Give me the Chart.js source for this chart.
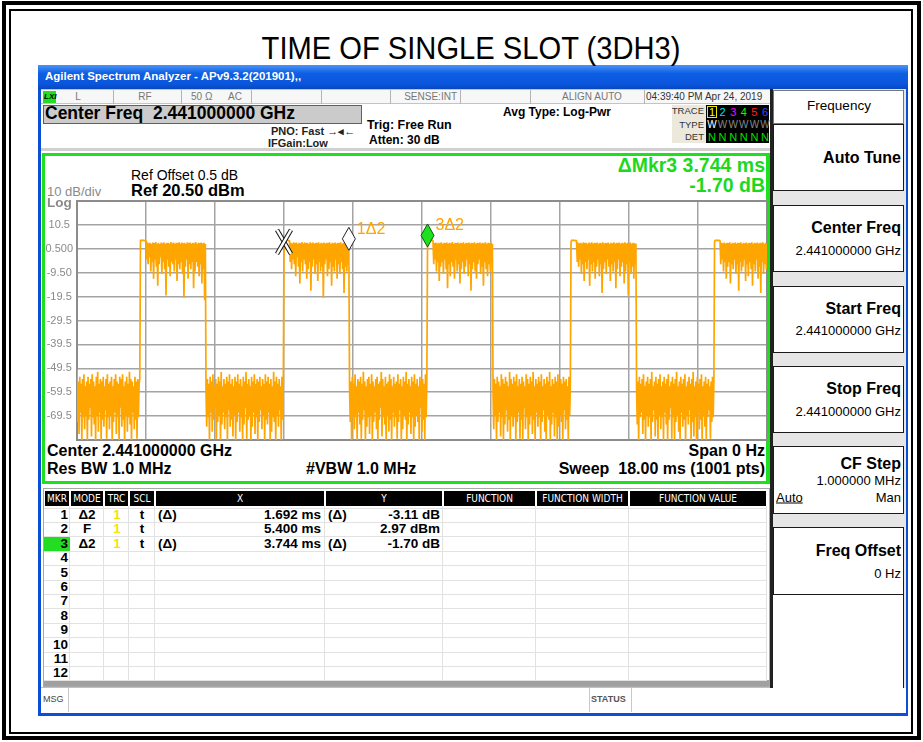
<!DOCTYPE html>
<html>
<head>
<meta charset="utf-8">
<title>Time of single slot (3DH3)</title>
<script src="https://cdn.jsdelivr.net/npm/chart.js@4.4.1/dist/chart.umd.min.js"></script>
<style>
  html, body { margin: 0; padding: 0; background: #fff; }
  body { position: relative; width: 923px; height: 742px; overflow: hidden;
         font-family: "Liberation Sans", Arial, sans-serif; color: #000; }
  .box { position: absolute; box-sizing: border-box; }
  .t { position: absolute; white-space: pre; line-height: 1; }
  #plot { position: absolute; left: 43px; top: 199px; }
</style>
</head>
<body>
<!-- report frame -->
<div class="box" style="left:2px;top:1px;width:919px;height:739px;border:4px solid #000"></div>
<div class="box" style="left:9px;top:9px;width:904px;height:725px;border:2px solid #000"></div>

<!-- analyzer window -->
<div class="box" style="left:38px;top:65px;width:870px;height:651px;background:#fff;border:3px solid #0b4fd6;border-top:0"></div>
<div class="box" style="left:38px;top:65px;width:870px;height:24px;background:linear-gradient(#4a94f8,#0d5fe4 35%,#0a55db 80%,#0747c0)"></div>
<div class="box" style="left:41px;top:89px;width:730px;height:15px;background:#f7f7f7;border-top:1px solid #c4c4c4;border-bottom:1px solid #c4c4c4"></div>
<div class="box" style="left:43px;top:105px;width:319px;height:19px;background:#cbcbcb;border:1px solid #606060"></div>
<div class="box" style="left:672px;top:105px;width:34px;height:38px;background:#ece9dc"></div>
<div class="box" style="left:706px;top:105px;width:63px;height:38px;background:#000"></div>
<div class="box" style="left:707px;top:106px;width:10px;height:12px;border:1px solid #e8e800"></div>
<div class="box" style="left:41px;top:148px;width:730px;height:3px;background:#d0d0d0"></div>
<div class="box" style="left:42px;top:153px;width:728px;height:331px;border:3px solid #1ee01e;border-right-width:4px"></div>

<!-- marker table -->
<div class="box" style="left:43px;top:488px;width:727px;height:199px;border:1px solid #a8a8a8;background:#fff"></div>
<div class="box" style="left:44px;top:680px;width:725px;height:6px;background:#a0a0a0"></div>
<div id="table"></div>

<!-- message line -->
<div class="box" style="left:41px;top:687px;width:865px;height:26px;border-top:1px solid #c0c0c0;background:#fff"></div>
<div class="box" style="left:68px;top:688px;width:1px;height:24px;background:#c8c8c8"></div>
<div class="box" style="left:589px;top:688px;width:1px;height:24px;background:#c8c8c8"></div>
<div class="box" style="left:631px;top:688px;width:1px;height:24px;background:#c8c8c8"></div>

<!-- softkey panel -->
<div class="box" style="left:770px;top:89px;width:136px;height:599px;background:#e6e6e6;border-left:3px solid #222"></div>
<div id="keys"></div>

<canvas id="plot" width="726" height="243"></canvas>

<script>
// Trace 1, zero span, 1001 points over an 18 ms sweep (values in dBm)
const sweepMs = 18;

const noise0 = [
  -50, -72, -55, -77, -53, -68, -56, -80, -54, -70,
  -52, -75, -57, -69, -55, -80, -53, -71, -56, -66,
  -54, -78, -52, -70, -55, -73, -57, -80, -53, -69,
  -51, -76, -56, -68, -54, -80, -55, -71, -53, -74,
  -57, -67, -54, -79, -52, -70, -56, -75, -55, -69,
  -53, -80, -57, -72, -54, -68, -52, -77, -55, -70,
  -56, -80, -53, -66, -54, -74, -52, -71, -57, -80,
  -55, -69, -53, -76, -56, -70, -51, -73, -54, -80,
  -55, -68, -57, -75, -53, -71, -55, -79, -54, -70,
  -56, -54
];
const burst1 = [
  4.0, 4.1, 4.0, 4.0, 4.1, 4.0, 3.9, 4.0, 3.8, -4,
  3.2, -6, 2.8, -3, 3.0, -9, 2.6, -5, 3.1, -12,
  2.9, -4, 3.3, -7, 2.7, -15, 3.0, -6, 2.5, -3,
  3.1, -10, 2.8, -5, 3.2, -8, 2.6, -19, 2.9, -4,
  3.0, -7, 2.7, -11, 3.3, -5, 2.8, -6, 3.1, -9,
  2.6, -4, 3.0, -13, 2.9, -6, 3.2, -8, 2.7, -5,
  3.1, -10, 2.8, -20, 3.0, -7, 2.6, -4, 3.2, -12,
  2.9, -6, 3.1, -8, 2.7, -5, 3.0, -16, 2.8, -9,
  3.3, -5, 2.6, -7, 3.0, -11, 2.9, -6, 3.1, -14,
  2.8, -8, 3.0, -21, 2.5
];
const noise1 = [
  -60, -74, -54, -70, -56, -80, -53, -68, -55, -76,
  -52, -71, -57, -66, -54, -79, -56, -72, -53, -69,
  -55, -80, -51, -73, -57, -68, -54, -75, -56, -70,
  -53, -80, -55, -67, -52, -74, -56, -71, -54, -78,
  -57, -69, -53, -80, -55, -72, -52, -68, -56, -76,
  -54, -70, -57, -80, -53, -73, -55, -66, -51, -79,
  -56, -71, -54, -69, -57, -80, -53, -74, -55, -68,
  -52, -77, -56, -70, -54, -80, -55, -72, -53, -67,
  -57, -75, -54, -69, -56, -80, -52, -71, -55, -73,
  -53, -68, -56, -80, -54, -76, -57, -70, -51, -72,
  -55, -80, -53, -69, -56, -74, -54, -67, -57, -80,
  -53, -71, -55
];
const burst2 = [
  2.97, 4.0, 4.1, 4.0, 4.0, 4.1, 3.9, 4.0, 3.8, -5,
  3.0, -8, 2.7, -4, 3.2, -6, 2.9, -11, 3.1, -3,
  2.6, -7, 3.0, -14, 2.8, -5, 3.3, -9, 2.7, -4,
  3.1, -6, 2.9, -12, 3.0, -8, 2.6, -5, 3.2, -17,
  2.8, -7, 3.1, -4, 2.7, -10, 3.0, -6, 2.9, -13,
  3.2, -5, 2.6, -9, 3.0, -7, 2.8, -20, 3.1, -6,
  2.7, -4, 3.0, -11, 2.9, -8, 3.2, -5, 2.6, -15,
  3.0, -7, 2.8, -9, 3.1, -4, 2.7, -12, 3.0, -6,
  2.9, -10, 3.2, -5, 2.6, -8, 3.0, -18, 2.8, -7,
  3.1, -9, 2.7, -6, -0.14
];
const noise2 = [
  -58, -72, -55, -80, -53, -69, -56, -75, -52, -70,
  -57, -80, -54, -68, -55, -73, -53, -79, -56, -71,
  -51, -67, -55, -80, -57, -74, -54, -70, -53, -77,
  -56, -69, -52, -80, -55, -72, -57, -68, -54, -75,
  -53, -80, -56, -71, -55, -66, -51, -78, -54, -70,
  -57, -73, -53, -80, -56, -69, -55, -76, -52, -71,
  -54, -80, -57, -68, -53, -74, -56, -70, -55, -79,
  -52, -72, -56, -67, -54, -80, -57, -75, -53, -69,
  -55, -71, -51, -80, -56, -73, -54, -68, -57, -77,
  -53, -70, -55, -80, -52, -74, -56, -69, -54, -72,
  -57, -80, -53, -66, -55, -76, -54, -71, -56, -80,
  -52, -70, -55
];
const burst3 = [
  1.27, 4.0, 4.0, 4.1, 4.0, 3.9, 4.0, 4.1, 3.8, -6,
  2.9, -4, 3.1, -9, 2.7, -5, 3.0, -13, 2.8, -7,
  3.2, -5, 2.6, -10, 3.0, -4, 2.9, -8, 3.1, -16,
  2.7, -6, 3.0, -11, 2.8, -5, 3.3, -7, 2.6, -12,
  3.0, -4, 2.9, -9, 3.1, -6, 2.7, -14, 3.0, -8,
  2.8, -5, 3.2, -10, 2.6, -7, 3.0, -4, 2.9, -11,
  3.1, -6, 2.7, -17, 3.0, -8, 2.8, -5, 3.2, -9,
  2.6, -12, 3.0, -6, 2.9, -4, 3.1, -10, 2.7, -7,
  3.0, -15, 2.8, -5, 3.2, -8, 2.6, -11, 3.0, -6,
  2.9, -9, 3.1, -5, 2.6
];
const noise3 = [
  -61, -75, -54, -69, -56, -80, -53, -72, -55, -68,
  -57, -78, -52, -70, -54, -80, -56, -73, -53, -67,
  -55, -76, -57, -71, -51, -80, -54, -69, -56, -74,
  -53, -70, -55, -80, -52, -72, -57, -68, -54, -79,
  -56, -71, -53, -80, -55, -66, -57, -75, -52, -70,
  -54, -80, -56, -73, -53, -69, -55, -77, -51, -71,
  -57, -80, -54, -68, -56, -74, -53, -70, -55, -80,
  -52, -72, -57, -67, -54, -76, -56, -80, -53, -69,
  -55, -71, -51, -80, -57, -73, -54, -68, -56, -78,
  -53, -70, -55, -80, -52, -74, -57, -69, -54, -72,
  -56, -80, -53, -67, -55, -75, -54, -71, -57, -80,
  -53, -69, -56
];
const burst4 = [
  3.6, 4.1, 4.0, 4.0, 4.1, 4.0, 3.9, 4.0, 3.8, -5,
  3.1, -7, 2.8, -4, 3.0, -10, 2.7, -6, 3.2, -13,
  2.9, -5, 3.0, -8, 2.6, -4, 3.1, -15, 2.8, -6,
  3.2, -9, 2.7, -5, 3.0, -12, 2.9, -7, 3.1, -4,
  2.6, -11, 3.0, -6, 2.8, -18, 3.2, -8, 2.7, -5,
  3.0, -10, 2.9, -4, 3.1, -7, 2.6, -13, 3.0, -6,
  2.8, -9, 3.2, -5, 2.7, -16, 3.0, -8, 2.9, -4,
  3.1, -11, 2.6, -7, 3.0, -5, 2.8, -14, 3.2, -9,
  2.7, -6, 3.0, -19, 2.9, -5, 3.1, -10, 2.6, -7,
  3.0, -12, 2.8, -6, 2.7
];
const noise4 = [
  -59, -73, -55, -80, -53, -70, -56, -68, -54, -77,
  -52, -71, -57, -80, -55, -69, -53, -74, -56, -70,
  -54, -80, -51, -72, -57, -67, -55, -78, -53, -71,
  -56, -80, -54, -69, -52, -75, -57, -70, -55, -80,
  -53, -68, -56, -73, -54, -80, -52, -71, -57, -66,
  -55, -79, -53, -70, -56, -80, -54, -72, -51, -69,
  -57, -76, -55, -80, -53, -68, -56, -74, -54, -71,
  -52, -80, -57, -69, -55, -73, -53, -67, -56, -80,
  -54, -72, -51, -78, -57, -70, -55, -80, -53, -68,
  -56, -75, -54, -71, -52, -80, -57, -69, -55, -74,
  -53, -80, -56, -70, -54, -67, -57, -79, -55, -72,
  -53, -70, -55
];
const burst5 = [
  3.7, 4.0, 4.1, 4.0, 4.0, 3.9, 4.1, 4.0, 3.8, -6,
  3.0, -4, 2.8, -9, 3.1, -5, 2.7, -12, 3.0, -7,
  2.9, -5, 3.2, -14, 2.6, -6, 3.0, -8, 2.8, -4,
  3.1, -10, 2.7, -6, 3.0, -17, 2.9, -5, 3.2, -9,
  2.6, -7, 3.0, -4, 2.8, -13, 3.1, -6, 2.7, -11,
  3.0, -5, 2.9, -8, 3.2, -15, 2.6, -6, 3.0, -9,
  2.8, -4, 3.1, -12, 2.7, -7, 3.0, -18, 2.9, -5,
  3.2, -10, 2.6, -6, 3.0, -8, 2.8
];

// Graticule
const gridMs = [0, 1.8, 3.6, 5.4, 7.2, 9, 10.8, 12.6, 14.4, 16.2, 18];
const yTicks = [20.5, 10.5, 0.5, -9.5, -19.5, -29.5, -39.5, -49.5, -59.5, -69.5, -79.5];
const yTickLabels = ['', '10.5', '0.500', '-9.50', '-19.5', '-29.5', '-39.5', '-49.5', '-59.5', '-69.5', ''];

// Markers (absolute position on trace)
const markerNames = ['1\u03942', '', '3\u03942'];
const markerTimes = [7.092, 5.400, 9.144];
const markerLevels = [-0.14, 2.97, 1.27];

// Marker table rows
const mkrModes = ['\u03942', 'F', '\u03942'];
const mkrX = ['1.692 ms', '5.400 ms', '3.744 ms'];
const mkrY = ['-3.11 dB', '2.97 dBm', '-1.70 dB'];
const mkrDelta = [true, false, true];

const trace = [].concat(noise0, burst1, noise1, burst2, noise2, burst3, noise3, burst4, noise4, burst5);
const tracePoints = trace.map((v, i) => ({ x: i * sweepMs / (trace.length - 1), y: v }));

// Text helper: y is the vertical centre of the text
function put(text, x, y, style, align, parent) {
    const el = document.createElement('div');
    el.className = 't';
    el.textContent = text;
    el.style.cssText = style || '';
    const tx = align === 'right' ? '-100%' : align === 'center' ? '-50%' : '0';
    el.style.left = x + 'px';
    el.style.top = y + 'px';
    el.style.transform = `translate(${tx}, -50%)`;
    (parent || document.body).appendChild(el);
    return el;
}
function rect(x, y, w, h, style, parent) {
    const el = document.createElement('div');
    el.className = 'box';
    el.style.cssText = `left:${x}px;top:${y}px;width:${w}px;height:${h}px;` + (style || '');
    (parent || document.body).appendChild(el);
    return el;
}

const B = 'font-weight:bold;';
const gray = 'color:#767676;font-size:10px;';

// Page title
const title = put('TIME OF SINGLE SLOT (3DH3)', 471, 48, 'font-size:31px;');
title.style.transform = 'translate(-50%, -50%) scaleX(0.94)';

// Window title bar + status strip
put('Agilent Spectrum Analyzer - APv9.3.2(201901),,', 45, 77, B + 'color:#fff;font-size:11.5px;');
rect(43, 91, 13, 12, 'background:#22dd22;');
put('LXI', 44, 97, B + 'font-style:italic;font-size:8px;');
[113, 181, 251, 321, 390, 460, 530, 644].forEach(x => rect(x, 90, 1, 14, 'background:#b4b4b4;'));
put('L', 78, 97, gray, 'center');
put('RF', 145, 97, gray, 'center');
put('50 \u03a9', 191, 97, gray);
put('AC', 228, 97, gray);
put('SENSE:INT', 457, 97, gray, 'right');
put('ALIGN AUTO', 562, 97, gray);
put('04:39:40 PM Apr 24, 2019', 646, 97, 'color:#333;font-size:10px;');

// Header
put('Center Freq  2.441000000 GHz', 45, 114, B + 'font-size:17.5px;');
put('PNO: Fast \u2192\u25c2\u2190', 271, 131, B + 'font-size:11px;color:#222;');
put('IFGain:Low', 268, 143, B + 'font-size:11px;color:#222;');
put('Trig: Free Run', 367, 125, B + 'font-size:12.5px;');
put('Atten: 30 dB', 369, 140, B + 'font-size:12px;');
put('Avg Type: Log-Pwr', 503, 112, B + 'font-size:12px;');
put('TRACE', 704, 111, 'font-size:9.5px;color:#333;', 'right');
put('TYPE', 704, 125, 'font-size:9.5px;color:#333;', 'right');
put('DET', 704, 137, 'font-size:9.5px;color:#333;', 'right');
const traceColors = ['#ffff00', '#00e0e0', '#ff00ff', '#00ff00', '#ff2020', '#4040ff'];
traceColors.forEach((c, i) => {
    put(String(i + 1), 712 + i * 10.6, 112, 'font-size:11px;color:' + c + ';', 'center');
    put('W', 712 + i * 10.6, 125, 'font-size:10px;color:' + (i ? '#888' : '#fff') + ';', 'center');
    put('N', 712 + i * 10.6, 137, 'font-size:11px;color:#00e000;', 'center');
});

// Plot annotations
put('Ref Offset 0.5 dB', 131, 175, 'font-size:14px;');
put('Ref 20.50 dBm', 131, 190, B + 'font-size:16.5px;');
put('10 dB/div', 47, 191, 'font-size:13px;color:#8a8a8a;');
put('Log', 47, 203, B + 'font-size:13.5px;color:#8a8a8a;');
put('\u0394Mkr3 3.744 ms', 765, 166, B + 'font-size:19.5px;color:#1ed81e;', 'right');
put('-1.70 dB', 765, 186, B + 'font-size:19.5px;color:#1ed81e;', 'right');
put('Center 2.441000000 GHz', 47, 451, B + 'font-size:16px;');
put('Res BW 1.0 MHz', 47, 469, B + 'font-size:16px;');
put('#VBW 1.0 MHz', 306, 469, B + 'font-size:16px;');
put('Span 0 Hz', 765, 451, B + 'font-size:16px;', 'right');
put('Sweep  18.00 ms (1001 pts)', 765, 469, B + 'font-size:16px;', 'right');

// Marker table
const tbl = document.getElementById('table');
const colEdges = [44, 70, 104, 129, 155, 325, 443, 536, 629, 767];
const colHeads = ['MKR', 'MODE', 'TRC', 'SCL', 'X', 'Y', 'FUNCTION', 'FUNCTION WIDTH', 'FUNCTION VALUE'];
const rowTop = 507.5, rowH = 14.4;
for (let r = 0; r <= 12; r++) rect(44, rowTop + r * rowH, 723, 1, 'background:#e2e2e2;', tbl);
colHeads.forEach((h, i) => {
    const x0 = colEdges[i], x1 = colEdges[i + 1];
    rect(x0 + 1, 491, x1 - x0 - 2, 15, 'background:#000;', tbl);
    rect(x1 - 1, 506, 1, 174, 'background:#e2e2e2;', tbl);
    put(h, (x0 + x1) / 2, 498.5, 'color:#fff;font-size:10px;font-family:"DejaVu Sans Condensed","DejaVu Sans";font-stretch:condensed;', 'center', tbl);
});
rect(44, 537, 26, 14, 'background:#22dd22;', tbl);
const rowFont = B + 'font-size:13.5px;';
for (let r = 0; r < 12; r++) {
    const y = rowTop + 7.5 + r * rowH;
    put(String(r + 1), 68, y, rowFont, 'right', tbl);
    if (r < mkrModes.length) {
        put(mkrModes[r], 87, y, rowFont, 'center', tbl);
        put('1', 117, y, rowFont + 'color:#f2e600;', 'center', tbl);
        put('t', 142, y, rowFont, 'center', tbl);
        if (mkrDelta[r]) {
            put('(\u0394)', 158, y, rowFont, '', tbl);
            put('(\u0394)', 328, y, rowFont, '', tbl);
        }
        put(mkrX[r], 321, y, rowFont, 'right', tbl);
        put(mkrY[r], 440, y, rowFont, 'right', tbl);
    }
}

// Message line
put('MSG', 43, 699, 'font-size:9px;color:#444;');
put('STATUS', 591, 699, B + 'font-size:9px;color:#555;');

// Softkeys
const keys = document.getElementById('keys');
rect(773, 90, 131, 34, 'background:#fff;border:1px solid #777;', keys);
put('Frequency', 839, 106, 'font-size:13.5px;', 'center', keys);
const keyTops = [124, 205, 286, 366, 446, 527];
const keyBottoms = [191, 272, 353, 433, 514, 595];
keyTops.forEach((t, i) => rect(773, t, 131, keyBottoms[i] - t, 'background:#fff;border:1.5px solid #1a1a1a;', keys));
rect(773, 595, 131, 93, 'background:#fff;border-right:1.5px solid #1a1a1a;', keys);
const kb = B + 'font-size:16px;';
const kv = 'font-size:13px;';
put('Auto Tune', 901, 158, kb, 'right', keys);
put('Center Freq', 901, 228, kb, 'right', keys);
put('2.441000000 GHz', 901, 250, kv, 'right', keys);
put('Start Freq', 901, 309, kb, 'right', keys);
put('2.441000000 GHz', 901, 330, kv, 'right', keys);
put('Stop Freq', 901, 389, kb, 'right', keys);
put('2.441000000 GHz', 901, 411, kv, 'right', keys);
put('CF Step', 901, 464, kb, 'right', keys);
put('1.000000 MHz', 901, 480, kv, 'right', keys);
put('Auto', 776, 497, kv + 'text-decoration:underline;', '', keys);
put('Man', 901, 497, kv, 'right', keys);
put('Freq Offset', 901, 551, kb, 'right', keys);
put('0 Hz', 901, 573, kv, 'right', keys);

// Graticule frame + marker symbols
const markerPlugin = {
    id: 'markers',
    beforeDatasetsDraw(chart) {
        const { ctx, chartArea: a } = chart;
        ctx.save();
        ctx.strokeStyle = '#8c8c8c';
        ctx.lineWidth = 2;
        ctx.strokeRect(a.left, a.top, a.right - a.left, a.bottom - a.top);
        ctx.restore();
    },
    afterDatasetsDraw(chart) {
        const { ctx, scales: { x, y } } = chart;
        ctx.save();
        markerTimes.forEach((t, i) => {
            const px = x.getPixelForValue(t);
            const py = y.getPixelForValue(markerLevels[i]);
            if (i === 1) {
                // reference marker drawn as a cross
                [[-7, -12, 7, 12], [7, -12, -7, 12]].forEach(([x0, y0, x1, y1]) => {
                    ctx.beginPath();
                    ctx.moveTo(px + x0, py - 1 + y0);
                    ctx.lineTo(px + x1, py - 1 + y1);
                    ctx.strokeStyle = '#111';
                    ctx.lineWidth = 4.5;
                    ctx.stroke();
                    ctx.strokeStyle = '#fff';
                    ctx.lineWidth = 2.5;
                    ctx.stroke();
                });
                return;
            }
            ctx.beginPath();
            ctx.moveTo(px, py);
            ctx.lineTo(px + 6.5, py - 11.5);
            ctx.lineTo(px, py - 23);
            ctx.lineTo(px - 6.5, py - 11.5);
            ctx.closePath();
            ctx.fillStyle = i === 2 ? '#1ee01e' : '#fff';
            ctx.fill();
            ctx.strokeStyle = i === 2 ? '#0a5a0a' : '#222';
            ctx.lineWidth = 1;
            ctx.stroke();
            ctx.fillStyle = '#ffa500';
            ctx.font = '16px "Liberation Sans", Arial, sans-serif';
            ctx.textBaseline = 'middle';
            ctx.fillText(markerNames[i], px + 8, py - 21);
        });
        ctx.restore();
    }
};

const ctx = document.getElementById('plot').getContext('2d');
new Chart(ctx, {
    type: 'line',
    data: {
        datasets: [{
            data: tracePoints,
            borderColor: '#ffa500',
            borderWidth: 1.7,
            pointRadius: 0,
            // tiny tension keeps every segment (no per-pixel min/max fast path)
            tension: 0.000001,
            fill: false
        }]
    },
    options: {
        responsive: false,
        animation: false,
        devicePixelRatio: 1,
        events: [],
        layout: { padding: { top: 2, right: 2, bottom: 2, left: 0 } },
        plugins: { legend: { display: false }, tooltip: { enabled: false } },
        scales: {
            x: {
                type: 'linear',
                min: 0,
                max: sweepMs,
                afterBuildTicks: axis => { axis.ticks = gridMs.map(v => ({ value: v })); },
                afterFit: axis => { axis.height = 0; axis.paddingLeft = 0; axis.paddingRight = 0; },
                ticks: { display: false },
                grid: { color: '#a4a4a4', lineWidth: 1.5, drawTicks: false },
                border: { display: false }
            },
            y: {
                min: -79.5,
                max: 20.5,
                afterBuildTicks: axis => { axis.ticks = yTicks.map(v => ({ value: v })); },
                afterFit: axis => { axis.width = 34; axis.paddingTop = 0; axis.paddingBottom = 0; },
                ticks: {
                    color: '#8a8a8a',
                    font: { family: '"Liberation Sans", Arial, sans-serif', size: 11 },
                    padding: 4,
                    crossAlign: 'center',
                    callback: v => yTickLabels[yTicks.indexOf(v)]
                },
                grid: { color: '#a4a4a4', lineWidth: 1.5, drawTicks: false },
                border: { display: false }
            }
        }
    },
    plugins: [markerPlugin]
});
</script>
</body>
</html>
